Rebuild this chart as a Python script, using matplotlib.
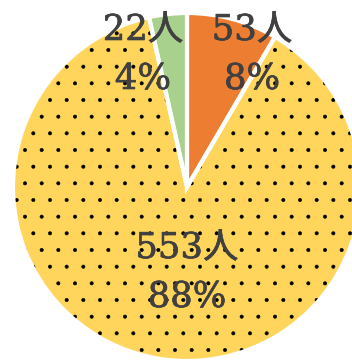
import numpy as np
import matplotlib
matplotlib.use("Agg")
import matplotlib.pyplot as plt
import matplotlib.patheffects as pe
from matplotlib.patches import Wedge

# data
counts = [53, 553, 22]
colors = ["#ED7D31", "#FFD55B", "#A9D18E"]
hatches = ["", ".", ""]
# where each label block sits (x, baseline of first line), pie radius = 1
label_pos = [(0.374, 0.845), (0.0, -0.408), (-0.253, 0.845)]

TEXT_COLOR = "#404040"
FONT = ["DejaVu Serif", "Noto Sans CJK JP"]

plt.rcParams["hatch.linewidth"] = 0.4

fig = plt.figure(figsize=(3.52, 3.60), dpi=100)
ax = fig.add_axes([0, 0, 1, 1])

total = sum(counts)

# filled slices
wedges, _ = ax.pie(counts, colors=colors, startangle=90, counterclock=False,
                   wedgeprops=dict(linewidth=0))

# dot pattern on top of the fill (hatch colour follows edgecolor)
for w, h in zip(wedges, hatches):
    if h:
        ov = Wedge(w.center, w.r, w.theta1, w.theta2, fill=False,
                   hatch=h, edgecolor="black", linewidth=0, zorder=w.get_zorder() + 0.1)
        ax.add_patch(ov)

# white separators
edges, _ = ax.pie(counts, colors=["none"] * len(counts), startangle=90,
                  counterclock=False,
                  wedgeprops=dict(edgecolor="white", linewidth=3))
for e in edges:
    e.set_zorder(5)

# labels, slightly thickened so the serif looks heavier
thick = [pe.withStroke(linewidth=0.5, foreground=TEXT_COLOR)]
line_gap = 49 / 174.0
for c, (x, y) in zip(counts, label_pos):
    pct = int(round(c / total * 100))
    ax.text(x, y, f"{c}人", ha="center", va="baseline", fontsize=25.5,
            color=TEXT_COLOR, family=FONT, zorder=10, path_effects=thick)
    ax.text(x, y - line_gap, f"{pct}%", ha="center", va="baseline", fontsize=25.5,
            color=TEXT_COLOR, family=FONT, zorder=10, path_effects=thick)

ax.set_xlim(-187 / 174.0, 165 / 174.0)
ax.set_ylim(-173 / 174.0, 187 / 174.0)
ax.set_aspect("auto")
ax.axis("off")

fig.savefig("out.png", dpi=100)
